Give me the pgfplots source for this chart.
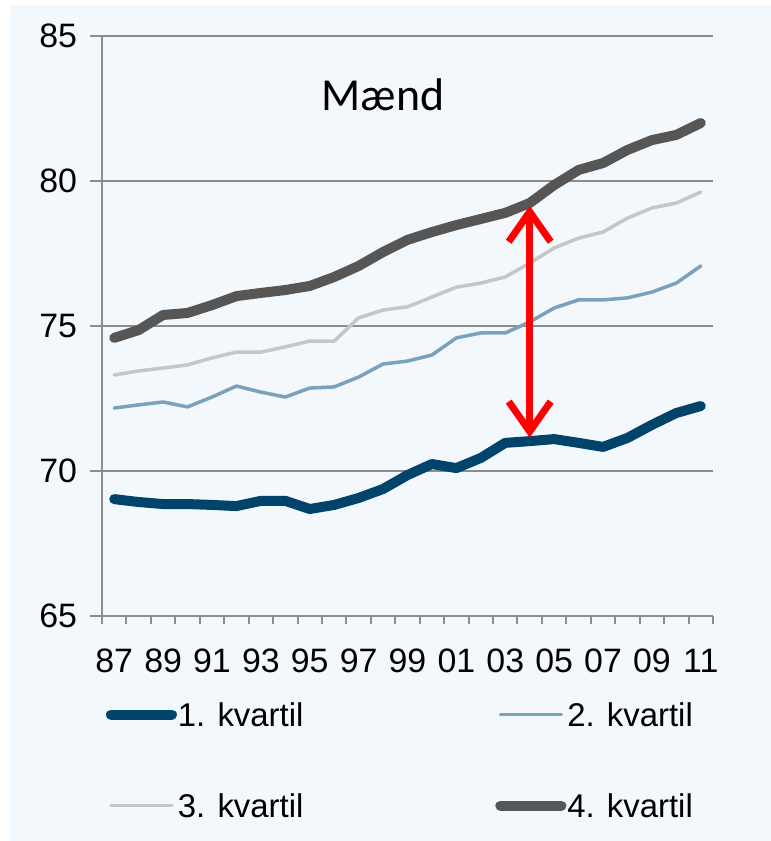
\documentclass[border=0pt]{standalone}
\usepackage{pgfplots}
\pgfplotsset{compat=1.18}
\usepackage{fontspec}
\setmainfont{Liberation Sans}
\newfontfamily\calibri{Carlito}
\usetikzlibrary{arrows.meta}

\definecolor{bgpanel}{HTML}{F3F8FC}
\definecolor{gridgray}{HTML}{8C8C8C}
\definecolor{qone}{HTML}{00436B}
\definecolor{qtwo}{HTML}{7AA2BC}
\definecolor{qthree}{HTML}{C6C6C6}
\definecolor{qfour}{HTML}{565656}

\begin{document}
\begin{tikzpicture}
\useasboundingbox (0,0) rectangle (385.5bp,420.5bp);
\fill[bgpanel] (5bp,0) rectangle (385.5bp,418bp);
\begin{axis}[
    at={(51bp,112.5bp)}, anchor=south west,
    scale only axis, width=305.5bp, height=290bp,
    xmin=1986.5, xmax=2011.5, ymin=65, ymax=85,
    axis x line*=bottom, axis y line*=left,
    axis line style={draw=gridgray, line width=1bp, -},
    ymajorgrids, grid style={draw=gridgray, line width=1bp},
    ytick={65,70,75,80,85},
    xtick={1987,1989,...,2011},
    xticklabels={87,89,91,93,95,97,99,01,03,05,07,09,11},
    minor xtick={1986.5,1987.5,...,2011.5},
    tick align=outside,
    major tick length=6bp, minor tick length=4bp,
    major x tick style={draw=none},
    tick style={draw=gridgray, line width=1bp},
    ticklabel style={font=\fontsize{17}{19}\selectfont},
    yticklabel style={xshift=-3bp},
    xticklabel style={yshift=-7bp},
    /pgf/number format/assume math mode=true,
    legend style={at={(-0.004,-0.14)}, anchor=north west, draw=none, fill=none,
        legend columns=2, font=\fontsize{16.5}{19}\selectfont,
        /tikz/every even column/.append style={column sep=95.5bp},
        row sep=32.5bp, nodes={inner sep=0.5bp, text height=12bp, text depth=0pt}},
    legend cell align=left,
    legend image code/.code={\draw[#1] (2.5bp,0bp) -- (33bp,0bp);},
    every axis plot/.append style={line join=round, line cap=round},
]
\addplot[qone, line width=5bp] coordinates {
 (1987,69.03) (1988,68.93) (1989,68.86) (1990,68.86) (1991,68.83) (1992,68.79)
 (1993,68.97) (1994,68.97) (1995,68.69) (1996,68.83) (1997,69.07) (1998,69.38)
 (1999,69.86) (2000,70.24) (2001,70.10) (2002,70.45) (2003,70.97) (2004,71.03)
 (2005,71.10) (2006,70.97) (2007,70.83) (2008,71.14) (2009,71.59) (2010,72.00)
 (2011,72.24)};
\addlegendentry{1. kvartil}
\addplot[qtwo, line width=1.75bp] coordinates {
 (1987,72.17) (1988,72.28) (1989,72.38) (1990,72.21) (1991,72.55) (1992,72.93)
 (1993,72.72) (1994,72.55) (1995,72.86) (1996,72.90) (1997,73.24) (1998,73.69)
 (1999,73.79) (2000,74.00) (2001,74.59) (2002,74.76) (2003,74.76) (2004,75.14)
 (2005,75.62) (2006,75.90) (2007,75.90) (2008,75.97) (2009,76.17) (2010,76.48)
 (2011,77.07)};
\addlegendentry{2. kvartil}
\addplot[qthree, line width=1.75bp] coordinates {
 (1987,73.31) (1988,73.45) (1989,73.55) (1990,73.66) (1991,73.90) (1992,74.10)
 (1993,74.10) (1994,74.28) (1995,74.48) (1996,74.48) (1997,75.28) (1998,75.55)
 (1999,75.66) (2000,76.00) (2001,76.34) (2002,76.48) (2003,76.69) (2004,77.17)
 (2005,77.69) (2006,78.03) (2007,78.24) (2008,78.72) (2009,79.07) (2010,79.24)
 (2011,79.62)};
\addlegendentry{3. kvartil}
\addplot[qfour, line width=5bp] coordinates {
 (1987,74.59) (1988,74.86) (1989,75.38) (1990,75.45) (1991,75.72) (1992,76.03)
 (1993,76.14) (1994,76.24) (1995,76.38) (1996,76.69) (1997,77.07) (1998,77.55)
 (1999,77.97) (2000,78.24) (2001,78.48) (2002,78.69) (2003,78.90) (2004,79.24)
 (2005,79.86) (2006,80.38) (2007,80.62) (2008,81.07) (2009,81.41) (2010,81.59)
 (2011,82.00)};
\addlegendentry{4. kvartil}
\draw[red, line width=3.5bp,
  {Straight Barb[length=15bp,width=21bp,line width=3.5bp]}-{Straight Barb[length=15bp,width=21bp,line width=3.5bp]}]
  (axis cs:2004,79.15) -- (axis cs:2004,71.15);
\node[font=\calibri\fontsize{23}{27}\selectfont] at (axis cs:1998,82.97) {Mænd};
\end{axis}
\end{tikzpicture}
\end{document}
